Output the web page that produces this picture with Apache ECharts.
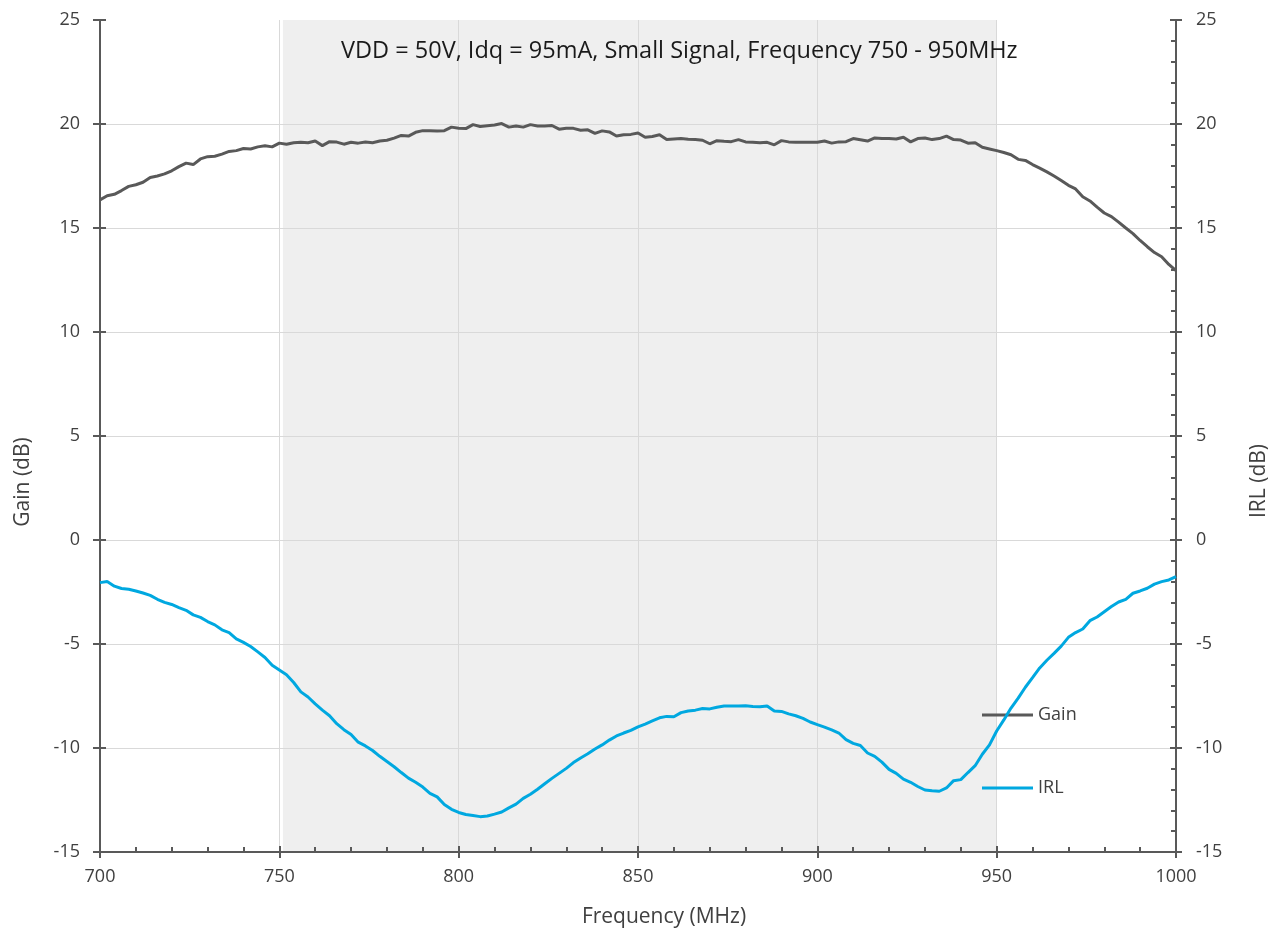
<!DOCTYPE html>
<html>
<head>
<meta charset="utf-8">
<script src="https://cdn.jsdelivr.net/npm/echarts@6/dist/echarts.min.js"></script>
<style>
html,body{margin:0;padding:0;background:#fff;}
#chart{width:1280px;height:935px;}
</style>
</head>
<body>
<div id="chart"></div>
<script>
// Frequency (MHz), 2 MHz steps from 700 to 1000
const freq = [];
for (let f = 700; f <= 1000; f += 2) freq.push(f);

const gainValues = [
16.35,16.55,16.62,16.80,17.00,17.08,17.20,17.43,17.50,17.60,
17.75,17.95,18.12,18.05,18.32,18.43,18.45,18.55,18.68,18.72,
18.82,18.80,18.90,18.95,18.90,19.08,19.03,19.10,19.12,19.10,
19.18,18.96,19.15,19.13,19.03,19.12,19.08,19.13,19.10,19.18,
19.22,19.32,19.45,19.42,19.60,19.68,19.68,19.66,19.68,19.85,
19.80,19.78,19.97,19.88,19.92,19.95,20.02,19.85,19.90,19.85,
19.97,19.90,19.90,19.93,19.75,19.80,19.79,19.70,19.72,19.55,
19.67,19.62,19.42,19.48,19.50,19.57,19.36,19.40,19.48,19.25,
19.28,19.30,19.27,19.25,19.22,19.05,19.20,19.17,19.15,19.25,
19.14,19.12,19.10,19.12,19.00,19.20,19.14,19.12,19.12,19.12,
19.12,19.18,19.08,19.14,19.15,19.30,19.24,19.18,19.33,19.30,
19.30,19.28,19.36,19.14,19.30,19.33,19.25,19.30,19.42,19.25,
19.23,19.08,19.10,18.88,18.80,18.72,18.63,18.52,18.30,18.25,
18.05,17.88,17.70,17.50,17.28,17.05,16.88,16.50,16.30,16.00,
15.72,15.55,15.28,15.00,14.73,14.40,14.10,13.82,13.62,13.25,
12.95
];

const irlValues = [
-2.05,-2.00,-2.22,-2.33,-2.37,-2.45,-2.55,-2.66,-2.85,-3.00,
-3.10,-3.25,-3.38,-3.60,-3.72,-3.92,-4.08,-4.32,-4.45,-4.75,
-4.92,-5.12,-5.38,-5.65,-6.02,-6.25,-6.48,-6.85,-7.30,-7.55,
-7.88,-8.18,-8.45,-8.83,-9.12,-9.35,-9.72,-9.90,-10.12,-10.40,
-10.65,-10.90,-11.18,-11.45,-11.65,-11.88,-12.18,-12.35,-12.72,-12.95,
-13.10,-13.20,-13.25,-13.30,-13.27,-13.18,-13.08,-12.88,-12.70,-12.42,
-12.22,-11.98,-11.72,-11.46,-11.22,-10.98,-10.70,-10.48,-10.28,-10.05,
-9.85,-9.62,-9.42,-9.28,-9.15,-8.98,-8.85,-8.70,-8.55,-8.48,
-8.50,-8.30,-8.22,-8.18,-8.10,-8.12,-8.04,-7.98,-7.98,-7.98,
-7.97,-8.00,-8.02,-7.98,-8.22,-8.24,-8.36,-8.45,-8.58,-8.75,
-8.88,-9.00,-9.13,-9.28,-9.60,-9.78,-9.88,-10.24,-10.40,-10.68,
-11.03,-11.22,-11.50,-11.65,-11.85,-12.02,-12.06,-12.08,-11.92,-11.57,
-11.52,-11.18,-10.85,-10.30,-9.85,-9.18,-8.65,-8.08,-7.60,-7.08,
-6.62,-6.15,-5.78,-5.45,-5.10,-4.68,-4.45,-4.28,-3.88,-3.70,
-3.45,-3.20,-2.98,-2.85,-2.56,-2.45,-2.32,-2.12,-2.00,-1.92,
-1.76
];

const bandStart = 751;
const bandEnd = 950;
const titleText = 'VDD = 50V, Idq = 95mA, Small Signal, Frequency 750 - 950MHz';
const xName = 'Frequency (MHz)';
const yLeftName = 'Gain (dB)';
const yRightName = 'IRL (dB)';

const gainData = freq.map((f, i) => [f, gainValues[i]]);
const irlData = freq.map((f, i) => [f, irlValues[i]]);

const FONT = '"Open Sans", "Noto Sans", sans-serif';
const AX = '#595959';
const TXT = '#404040';

const chart = echarts.init(document.getElementById('chart'), null, {renderer: 'canvas'});

const yCommon = {type: 'value', min: -15, max: 25, interval: 5};
const nameStyle = {fontFamily: FONT, fontSize: 21, fill: TXT, align: 'center', verticalAlign: 'middle'};

chart.setOption({
  animation: false,
  backgroundColor: '#ffffff',
  title: {
    text: titleText,
    left: 336, top: 34,
    textStyle: {fontFamily: FONT, fontSize: 23.5, fontWeight: 'normal', color: '#1a1a1a'}
  },
  graphic: [
    {type: 'text', x: 664, y: 917, style: Object.assign({text: xName}, nameStyle)},
    {type: 'text', x: 23, y: 482, rotation: Math.PI / 2, style: Object.assign({text: yLeftName}, nameStyle)},
    {type: 'text', x: 1259, y: 481, rotation: Math.PI / 2, style: Object.assign({text: yRightName}, nameStyle)}
  ],
  grid: {left: 100, right: 104, top: 20, bottom: 83, containLabel: false},
  legend: {
    data: ['Gain', 'IRL'],
    orient: 'vertical',
    left: 977, top: 701,
    icon: 'rect',
    itemWidth: 51, itemHeight: 3,
    itemGap: 55,
    textStyle: {fontFamily: FONT, fontSize: 18, color: TXT}
  },
  xAxis: [
    {
      type: 'value', min: 700, max: 1000, interval: 50, position: 'bottom', z: 3,
      axisLine: {show: true, onZero: false, lineStyle: {color: AX, width: 2}},
      axisTick: {show: true, inside: false, length: 6, lineStyle: {color: AX, width: 2}},
      axisLabel: {fontFamily: FONT, fontSize: 18, color: TXT, margin: 16, formatter: v => String(v)},
      splitLine: {show: true, lineStyle: {color: '#d9d9d9', width: 1}}
    },
    {
      type: 'value', min: 700, max: 1000, interval: 50, position: 'bottom', z: 3,
      axisLine: {show: false, onZero: false},
      axisTick: {show: true, inside: true, length: 6, lineStyle: {color: AX, width: 2}},
      minorTick: {show: true, splitNumber: 5, length: 5, lineStyle: {color: AX, width: 2}},
      axisLabel: {show: false},
      splitLine: {show: false}
    }
  ],
  yAxis: [
    Object.assign({}, yCommon, {
      position: 'left', z: 3,
      axisLine: {show: true, onZero: false, lineStyle: {color: AX, width: 2}},
      axisTick: {show: true, inside: false, length: 7, lineStyle: {color: AX, width: 2}},
      axisLabel: {fontFamily: FONT, fontSize: 18, color: TXT, margin: 20},
      splitLine: {show: true, showMaxLine: false, lineStyle: {color: '#d9d9d9', width: 1}}
    }),
    Object.assign({}, yCommon, {
      position: 'left', z: 3,
      axisLine: {show: false, onZero: false},
      axisTick: {show: true, inside: true, length: 6, lineStyle: {color: AX, width: 2}},
      axisLabel: {show: false},
      splitLine: {show: false}
    }),
    Object.assign({}, yCommon, {
      position: 'right', z: 3,
      axisLine: {show: true, onZero: false, lineStyle: {color: AX, width: 2}},
      axisTick: {show: true, inside: false, length: 6, lineStyle: {color: AX, width: 2}},
      axisLabel: {fontFamily: FONT, fontSize: 18, color: TXT, margin: 20},
      splitLine: {show: false}
    }),
    Object.assign({}, yCommon, {
      position: 'right', z: 3,
      axisLine: {show: false, onZero: false},
      axisTick: {show: true, inside: true, length: 6, lineStyle: {color: AX, width: 2}},
      minorTick: {show: true, splitNumber: 5, length: 5, lineStyle: {color: AX, width: 2}},
      axisLabel: {show: false},
      splitLine: {show: false}
    })
  ],
  series: [
    {
      name: 'band', type: 'line', data: [], z: 1, silent: true,
      xAxisIndex: 0, yAxisIndex: 0,
      markArea: {
        silent: true,
        itemStyle: {color: '#efefef'},
        data: [[{xAxis: bandStart}, {xAxis: bandEnd}]]
      }
    },
    {
      name: 'Gain', type: 'line', data: gainData, showSymbol: false, symbol: 'none',
      xAxisIndex: 0, yAxisIndex: 0,
      lineStyle: {color: '#595959', width: 3}, itemStyle: {color: '#595959'}, z: 5
    },
    {
      name: 'IRL', type: 'line', data: irlData, showSymbol: false, symbol: 'none',
      xAxisIndex: 0, yAxisIndex: 2,
      lineStyle: {color: '#00a8e0', width: 3}, itemStyle: {color: '#00a8e0'}, z: 5
    }
  ]
});
</script>
</body>
</html>
